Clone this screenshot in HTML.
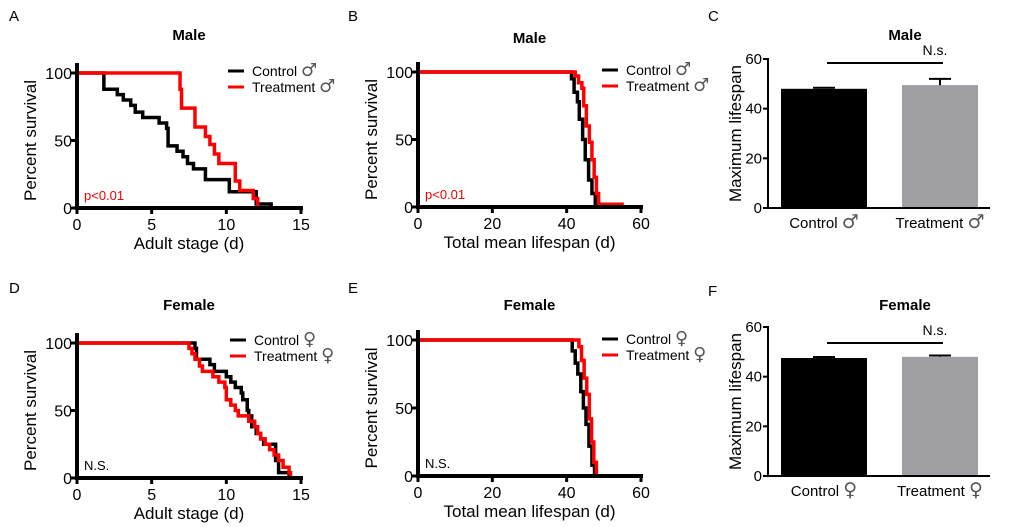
<!DOCTYPE html>
<html><head><meta charset="utf-8">
<style>
html,body{margin:0;padding:0;background:#fff;}
svg{display:block;font-family:"Liberation Sans","DejaVu Sans",sans-serif;}
</style></head>
<body>
<svg id="fig" width="1020" height="527" viewBox="0 0 1020 527" xmlns="http://www.w3.org/2000/svg">
<g font-size="15" fill="#000">
<text x="9" y="21">A</text>
<text x="348" y="21">B</text>
<text x="708" y="21">C</text>
<text x="9" y="293">D</text>
<text x="348" y="293">E</text>
<text x="708" y="296">F</text>
</g>
<g id="layer"></g>
</svg>
<script>
// ---- data ----
const maleAdultCtrlT = [0,1.8,2.7,3.1,3.6,3.9,4.4,5.5,6.0,6.1,6.7,7.1,7.4,7.8,8.6,10.2,12.0,13.0];
const maleAdultCtrlS = [100,88,84,80,76,71,67,63,59,46,42,38,33,29,21,12,3,0];
const maleAdultTrtT = [0,6.9,7.0,7.9,8.6,8.9,9.2,9.5,10.6,10.9,11.8,12.1];
const maleAdultTrtS = [100,88,74,60,53,47,40,33,20,13,7,0];
const maleLifeCtrlT = [0,41.3,42.0,42.9,43.4,44.3,45.0,45.9,46.8,47.7];
const maleLifeCtrlS = [100,95,85,78,65,50,35,20,10,0];
const maleLifeTrtT = [0,42.3,43.2,44.1,44.6,45.3,46.1,46.8,47.4,48.0,48.6,54.9];
const maleLifeTrtS = [100,97,92,88,75,60,48,35,22,10,2,0];
const femAdultCtrlT = [0,7.9,8.0,8.9,9.2,10.0,10.3,10.6,11.0,11.1,11.4,11.5,11.7,12.0,12.3,12.5,13.3,13.5,14.2];
const femAdultCtrlS = [100,96,88,84,79,75,71,67,63,58,50,46,38,33,29,25,13,4,0];
const femAdultTrtT = [0,7.5,7.7,7.9,8.2,8.4,9.1,9.5,9.9,10.0,10.3,10.6,10.8,11.5,11.9,12.1,12.3,12.6,12.9,13.2,13.5,13.8,14.2,14.3];
const femAdultTrtS = [100,96,92,88,83,79,75,71,67,58,54,50,46,42,38,33,29,25,21,17,13,8,4,0];
const femLifeCtrlT = [0,41.5,42.3,43.0,43.8,44.5,45.2,46.0,46.8,47.5];
const femLifeCtrlS = [100,92,83,75,62,50,38,22,8,0];
const femLifeTrtT = [0,43.3,44.0,44.7,45.4,46.1,46.7,47.3,48.0];
const femLifeTrtS = [100,95,85,72,60,42,25,10,0];
const barCats = ["Control","Treatment"];
const maleMax = [48,49.5];
const maleErr = [0.4,2.5];
const femMax = [47.5,48];
const femErr = [0.4,0.5];
const adultTicks = [0,5,10,15];
const lifeTicks = [0,20,40,60];
const survTicks = [0,50,100];
const barTicks = [0,20,40,60];

const NS = "http://www.w3.org/2000/svg";
const layer = document.getElementById('layer');
function mk(tag, attrs, parent, txt){
  const e = document.createElementNS(NS, tag);
  for (const k in attrs) e.setAttribute(k, attrs[k]);
  if (txt !== undefined) e.textContent = txt;
  (parent||layer).appendChild(e);
  return e;
}
function labelWithSym(parent, x, y, anchor, size, word, sym){
  const t = mk('text',{x:x,y:y,'text-anchor':anchor,'font-size':size},parent);
  mk('tspan',{},t,word+' ');
  mk('tspan',{'font-size':size+4,fill:'#555','font-family':'"DejaVu Sans",sans-serif'},t,sym);
  return t;
}

function kmPanel(o){
  const g = mk('g',{});
  
  
  const sx = v => o.x0 + (v - o.xmin)/(o.xmax - o.xmin)*(o.x1 - o.x0);
  const sy = v => o.y0 - v/100*(o.y0 - o.y1);
  const t = mk('text',{x:(o.x0+o.x1)/2,y:o.titleY,'text-anchor':'middle','font-size':15,'font-weight':'bold'},g,o.title);
  
  
  o.series.forEach(s=>{
    let d = 'M'+sx(s.t[0])+','+sy(s.s[0]);
    for (let i=1;i<s.t.length;i++){
      d += ' H'+sx(s.t[i])+' V'+sy(s.s[i]);
    }
    const p = mk('path',{d:d,fill:'none',stroke:s.c,'stroke-width':3.5,'stroke-linejoin':'miter'},g);
    
    
  });
  const ax = mk('path',{d:'M'+o.x0+','+(o.y1-10)+' V'+o.y0+' H'+(o.x1+2),fill:'none',stroke:'#000','stroke-width':4},g);
  
  
  o.xt.forEach(v=>{
    mk('line',{x1:sx(v),x2:sx(v),y1:o.y0,y2:o.y0+6,stroke:'#000','stroke-width':3},g);
    const tl = mk('text',{x:sx(v),y:o.y0+22,'text-anchor':'middle','font-size':16},g,String(v));
    
    
  });
  survTicks.forEach(v=>{
    mk('line',{x1:o.x0-6,x2:o.x0,y1:sy(v),y2:sy(v),stroke:'#000','stroke-width':3},g);
    const tl = mk('text',{x:o.x0-5,y:sy(v)+6,'text-anchor':'end','font-size':16},g,String(v));
    
    
  });
  const xt = mk('text',{x:(o.x0+o.x1)/2,y:o.y0+41,'text-anchor':'middle','font-size':17},g,o.xlabel);
  
  
  const yc = (o.y0+o.y1)/2;
  const yt = mk('text',{x:o.yTitleX,y:yc,'text-anchor':'middle','font-size':17,transform:'rotate(-90 '+o.yTitleX+' '+yc+')'},g,'Percent survival');
  
  
  o.series.forEach((s,i)=>{
    const ly = o.legY + i*16;
    mk('line',{x1:o.legX,x2:o.legX+16,y1:ly,y2:ly,stroke:s.c,'stroke-width':3},g);
    const lt = labelWithSym(g,o.legX+24,ly+5,'start',14,s.label,o.sym);
    
    
  });
  const st = mk('text',{x:o.x0+7,y:o.y0-8,'font-size':13,fill:o.statC},g,o.stat);
  
  
}

function barPanel(o){
  const g = mk('g',{});
  
  
  const sy = v => o.y0 - v/60*(o.y0 - o.y1);
  const t = mk('text',{x:905,y:o.titleY,'text-anchor':'middle','font-size':15,'font-weight':'bold'},g,o.title);
  
  
  const bx = [781,902], bw = 86, cols = ['#000','#a0a0a4'];
  o.vals.forEach((v,i)=>{
    const w = bw-(i?10:0);
    const b = mk('rect',{x:bx[i],y:sy(v),width:w,height:o.y0-sy(v),fill:cols[i]},g);
    
    
    const cx = bx[i]+w/2;
    const e = mk('path',{d:'M'+cx+','+sy(v)+' V'+sy(v+o.err[i])+' M'+(cx-11)+','+sy(v+o.err[i])+' H'+(cx+11),stroke:cols[0],'stroke-width':2,fill:'none'},g);
    
    
    const lb = labelWithSym(g,cx,o.y0+20,'middle',15,barCats[i],o.sym);
    
    
  });
  const ax = mk('path',{d:'M768,'+(o.y1-1)+' V'+o.y0+' H990',fill:'none',stroke:'#000','stroke-width':2},g);
  
  
  barTicks.forEach(v=>{
    mk('line',{x1:763,x2:768,y1:sy(v),y2:sy(v),stroke:'#000','stroke-width':2},g);
    const tl = mk('text',{x:762,y:sy(v)+5,'text-anchor':'end','font-size':15},g,String(v));
    
    
  });
  const yc = (o.y0+o.y1)/2;
  const yt = mk('text',{x:741,y:yc,'text-anchor':'middle','font-size':17,transform:'rotate(-90 741 '+yc+')'},g,'Maximum lifespan');
  
  
  const br = mk('line',{x1:827,x2:943,y1:o.brY,y2:o.brY,stroke:'#000','stroke-width':2},g);
  
  
  const ns = mk('text',{x:935,y:o.brY-8,'text-anchor':'middle','font-size':14},g,'N.s.');
  
  
}

kmPanel({id:'panel-a-male-adult',title:'Male',titleY:40,x0:77,x1:301,xmin:0,xmax:15,y0:208,y1:73,xt:adultTicks,xlabel:'Adult stage (d)',yTitleX:36,legX:228,legY:71,stat:'p<0.01',statC:'#e00',sym:'♂',
  series:[{name:'control-line',t:maleAdultCtrlT,s:maleAdultCtrlS,c:'#000',label:'Control'},{name:'treatment-line',t:maleAdultTrtT,s:maleAdultTrtS,c:'#f00',label:'Treatment'}]});
kmPanel({id:'panel-b-male-lifespan',title:'Male',titleY:43,x0:418,x1:641,xmin:0,xmax:60,y0:207,y1:72,xt:lifeTicks,xlabel:'Total mean lifespan (d)',yTitleX:377,legX:602,legY:70,stat:'p<0.01',statC:'#e00',sym:'♂',
  series:[{name:'control-line',t:maleLifeCtrlT,s:maleLifeCtrlS,c:'#000',label:'Control'},{name:'treatment-line',t:maleLifeTrtT,s:maleLifeTrtS,c:'#f00',label:'Treatment'}]});
kmPanel({id:'panel-d-female-adult',title:'Female',titleY:310,x0:77,x1:301,xmin:0,xmax:15,y0:478,y1:343,xt:adultTicks,xlabel:'Adult stage (d)',yTitleX:36,legX:230,legY:340,stat:'N.S.',statC:'#000',sym:'♀',
  series:[{name:'control-line',t:femAdultCtrlT,s:femAdultCtrlS,c:'#000',label:'Control'},{name:'treatment-line',t:femAdultTrtT,s:femAdultTrtS,c:'#f00',label:'Treatment'}]});
kmPanel({id:'panel-e-female-lifespan',title:'Female',titleY:310,x0:418,x1:641,xmin:0,xmax:60,y0:476,y1:340,xt:lifeTicks,xlabel:'Total mean lifespan (d)',yTitleX:377,legX:602,legY:339,stat:'N.S.',statC:'#000',sym:'♀',
  series:[{name:'control-line',t:femLifeCtrlT,s:femLifeCtrlS,c:'#000',label:'Control'},{name:'treatment-line',t:femLifeTrtT,s:femLifeTrtS,c:'#f00',label:'Treatment'}]});
barPanel({id:'panel-c-male-max',title:'Male',titleY:40,y0:208,y1:59,vals:maleMax,err:maleErr,sym:'♂',brY:63});
barPanel({id:'panel-f-female-max',title:'Female',titleY:310,y0:476,y1:327,vals:femMax,err:femErr,sym:'♀',brY:343});
</script>
</body></html>
